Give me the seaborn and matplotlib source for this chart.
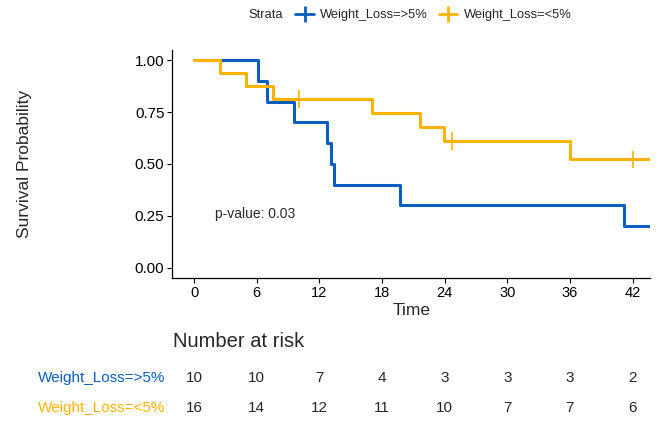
import matplotlib
matplotlib.use("Agg")
import matplotlib.pyplot as plt
import matplotlib.transforms as mtransforms
from matplotlib.lines import Line2D
import pandas as pd
import seaborn as sns

# ---------------------------------------------------------------------------
# Data
# ---------------------------------------------------------------------------
groups = ["Weight_Loss=>5%", "Weight_Loss=<5%"]
colors = ["#0A5EC0", "#FFB300"]

time_hi = [0, 6.1, 7.0, 9.6, 12.7, 13.1, 13.4, 19.7, 41.2, 44]
surv_hi = [1.0, 0.90, 0.80, 0.70, 0.60, 0.50, 0.40, 0.30, 0.20, 0.20]

time_lo = [0, 2.5, 5.0, 7.6, 17.0, 21.6, 23.9, 36.0, 44]
surv_lo = [1.0, 0.9375, 0.875, 0.8125, 0.7448, 0.6771, 0.6094, 0.5223, 0.5223]

censor_time_lo = [10.1, 24.7, 42.0]
censor_surv_lo = [0.8125, 0.6094, 0.5223]

risk_times = [0, 6, 12, 18, 24, 30, 36, 42]
risk_hi = [10, 10, 7, 4, 3, 3, 3, 2]
risk_lo = [16, 14, 12, 11, 10, 7, 7, 6]

p_value = "p-value: 0.03"

# ---------------------------------------------------------------------------
# Plot
# ---------------------------------------------------------------------------
sns.set_theme(style="ticks")
plt.rcParams["font.family"] = ["Liberation Sans", "DejaVu Sans"]

curves = pd.concat([
    pd.DataFrame({"time": time_hi, "surv": surv_hi, "strata": groups[0]}),
    pd.DataFrame({"time": time_lo, "surv": surv_lo, "strata": groups[1]}),
])
censors = pd.DataFrame({"time": censor_time_lo, "surv": censor_surv_lo,
                        "strata": groups[1]})
palette = dict(zip(groups, colors))

fig = plt.figure(figsize=(6.67, 4.22), dpi=100)
ax = fig.add_axes([0.258, 0.341, 0.717, 0.541])

sns.lineplot(data=curves, x="time", y="surv", hue="strata", hue_order=groups,
             palette=palette, estimator=None, drawstyle="steps-post",
             linewidth=2.2, legend=False, ax=ax)
sns.scatterplot(data=censors, x="time", y="surv", hue="strata",
                palette=palette, marker="+", s=160, linewidth=1.2,
                legend=False, ax=ax)

ax.set_xlim(-2.1, 43.7)
ax.set_ylim(-0.05, 1.05)
ax.set_xticks(risk_times)
ax.set_yticks([0, 0.25, 0.5, 0.75, 1.0])
ax.set_yticklabels(["0.00", "0.25", "0.50", "0.75", "1.00"])
ax.tick_params(labelsize=10.5, colors="black", length=3.5, width=0.8, pad=2)
ax.tick_params(axis="y", labelsize=11)
for s in ["left", "bottom"]:
    ax.spines[s].set_linewidth(0.9)
    ax.spines[s].set_color("black")
sns.despine(ax=ax)
ax.set_xlabel("Time", fontsize=12.5, labelpad=2)
ax.set_ylabel("Survival Probability", fontsize=12.5)
ax.yaxis.set_label_coords(-0.293, 0.5)

ax.text(2.0, 0.26, p_value, fontsize=10, ha="left", va="center")

# legend on top
fig.text(0.399, 0.964, "Strata", fontsize=9.3, ha="center", va="center")
handles = [Line2D([], [], color=c, lw=2, marker="|", markersize=12,
                  markeredgewidth=2) for c in colors]
fig.legend(handles, groups, loc="center left", bbox_to_anchor=(0.443, 0.964),
           ncol=2, frameon=False, fontsize=9.3, handlelength=1.4,
           handletextpad=0.5, columnspacing=0.9, borderaxespad=0, borderpad=0)

# number at risk table
trans = mtransforms.blended_transform_factory(ax.transData, fig.transFigure)
fig.text(0.259, 0.19, "Number at risk", fontsize=14.5, ha="left", va="center")
for counts, label, color, y in [(risk_hi, groups[0], colors[0], 0.104),
                                 (risk_lo, groups[1], colors[1], 0.033)]:
    fig.text(0.248, y, label, color=color, fontsize=11, ha="right", va="center")
    for t, n in zip(risk_times, counts):
        ax.text(t, y, str(n), transform=trans, fontsize=11, ha="center",
                va="center", clip_on=False)

fig.savefig("out.png", dpi=100)
